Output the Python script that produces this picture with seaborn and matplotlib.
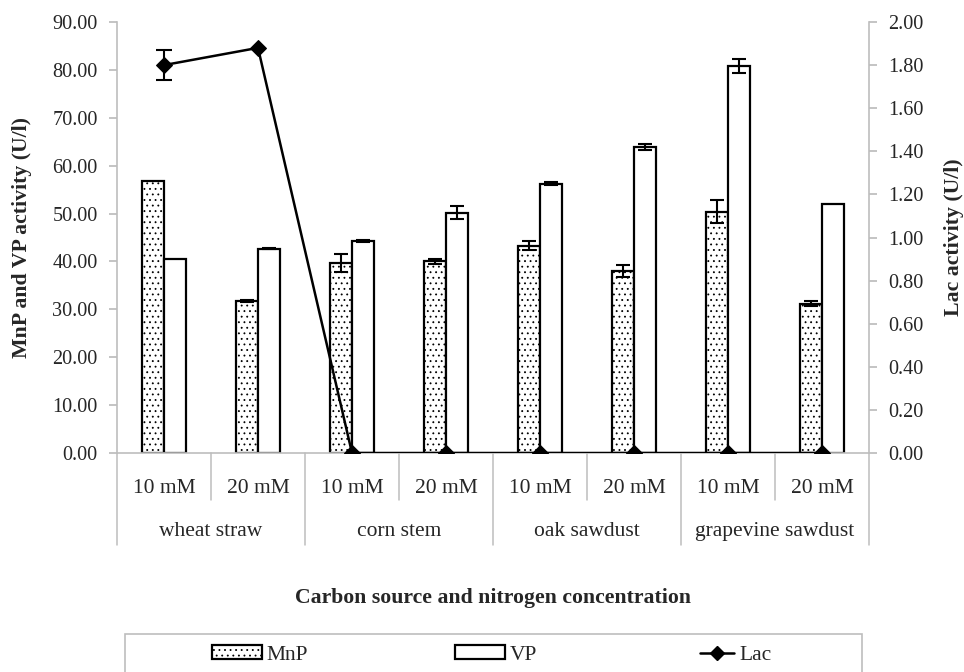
import numpy as np
import pandas as pd
import matplotlib
matplotlib.use('Agg')
import matplotlib.pyplot as plt
import seaborn as sns
from matplotlib.patches import Patch, Rectangle
from matplotlib.lines import Line2D
from matplotlib.transforms import blended_transform_factory

# Dados
fontes = ['wheat straw', 'corn stem', 'oak sawdust', 'grapevine sawdust']
concentracoes = ['10 mM', '20 mM']
mnp = [56.8, 31.7, 39.7, 40.0, 43.3, 38.0, 50.4, 31.2]
mnp_dp = [0.0, 0.2, 1.8, 0.5, 0.9, 1.3, 2.4, 0.5]
vp = [40.5, 42.7, 44.3, 50.2, 56.2, 63.9, 80.8, 52.0]
vp_dp = [0.0, 0.2, 0.2, 1.3, 0.3, 0.6, 1.4, 0.0]
lac = [1.80, 1.88, 0.0, 0.0, 0.0, 0.0, 0.0, 0.0]
lac_dp = [0.07, 0.0, 0.0, 0.0, 0.0, 0.0, 0.0, 0.0]

sns.set_theme(style='white')
plt.rcParams['font.family'] = ['Liberation Serif', 'DejaVu Serif']
plt.rcParams['hatch.linewidth'] = 0.6
cinza = '#bdbdbd'
fs_tick = 14.6
fs_cat = 15.5
fs_tit = 15.7

amostras = [f"{f} {c}" for f in fontes for c in concentracoes]
df = pd.DataFrame({
    'Amostra': amostras * 2,
    'Enzima': ['MnP'] * 8 + ['VP'] * 8,
    'Atividade': mnp + vp,
})

fig = plt.figure(figsize=(9.64, 6.72), dpi=100)
ax = fig.add_axes([117 / 964, 1 - 453 / 672, (869 - 117) / 964, (453 - 22) / 672])

sns.barplot(data=df, x='Amostra', y='Atividade', hue='Enzima', order=amostras,
            hue_order=['MnP', 'VP'], palette={'MnP': 'white', 'VP': 'white'},
            saturation=1, width=0.47, errorbar=None, edgecolor='black',
            linewidth=1.6, legend=False, ax=ax)

for patch in ax.containers[0]:
    patch.set_hatch('...')

for cont, dp in zip(ax.containers, [mnp_dp, vp_dp]):
    xs = [p.get_x() + p.get_width() / 2 for p in cont]
    ys = [p.get_height() for p in cont]
    for x, y, e in zip(xs, ys, dp):
        if e > 0:
            ax.errorbar(x, y, yerr=e, fmt='none', ecolor='black', elinewidth=1.5,
                        capsize=5, capthick=1.5, zorder=5)

ax.set_xlim(-0.5, 7.5)
ax.set_ylim(0, 90)
ax.set_yticks(np.arange(0, 91, 10))
ax.set_yticklabels([f"{v:.2f}" for v in np.arange(0, 91, 10)], fontsize=fs_tick)
ax.set_xticks(range(8))
ax.set_xticklabels(concentracoes * 4, fontsize=fs_cat)
ax.tick_params(axis='x', length=0, pad=19)
ax.tick_params(axis='y', length=6, color=cinza, direction='out', left=True, pad=8)
ax.set_xlabel('')
ax.set_ylabel('')
for s in ['top', 'right']:
    ax.spines[s].set_visible(False)
for s in ['left', 'bottom']:
    ax.spines[s].set_color(cinza)
    ax.spines[s].set_linewidth(1.2)

# separadores e rotulos de grupo
tr = blended_transform_factory(ax.transData, ax.transAxes)
for i in range(9):
    x = i - 0.5
    fim = -0.213 if i % 2 == 0 else -0.109
    ax.plot([x, x], [0, fim], transform=tr, color=cinza, lw=1.1, clip_on=False)
for i, f in enumerate(fontes):
    ax.text(2 * i + 0.5, -0.181, f, transform=tr, ha='center', va='center', fontsize=fs_cat)

ax2 = ax.twinx()
sns.lineplot(x=np.arange(8), y=lac, ax=ax2, color='black', marker='D', markersize=8,
             linewidth=1.8, markeredgecolor='black', zorder=6)
ax2.errorbar(0, lac[0], yerr=lac_dp[0], fmt='none', ecolor='black', elinewidth=1.5,
             capsize=6, capthick=1.5)
ax2.set_ylim(0, 2.0)
ax2.set_yticks(np.arange(0, 2.01, 0.2))
ax2.set_yticklabels([f"{v:.2f}" for v in np.arange(0, 2.01, 0.2)], fontsize=fs_tick)
ax2.tick_params(axis='y', length=6, color=cinza, direction='out', right=True, pad=8)
ax2.set_ylabel('')
for s in ['top', 'left', 'bottom']:
    ax2.spines[s].set_visible(False)
ax2.spines['right'].set_color(cinza)
ax2.spines['right'].set_linewidth(1.2)
ax2.set_xlim(-0.5, 7.5)

# titulos dos eixos
meio_y = 1 - 237 / 672
fig.text(22 / 964, meio_y, 'MnP and VP activity (U/l)', rotation=90, ha='center',
         va='center', fontsize=fs_tit, fontweight='bold')
fig.text(954 / 964, meio_y, 'Lac activity (U/l)', rotation=90, ha='center',
         va='center', fontsize=fs_tit, fontweight='bold')
fig.text(493 / 964, 1 - 598 / 672, 'Carbon source and nitrogen concentration',
         ha='center', va='center', fontsize=fs_tit, fontweight='bold')

# legenda com moldura cinza
fig.patches.append(Rectangle((125 / 964, -0.02), (862 - 125) / 964, 1 - 634 / 672 + 0.02,
                             transform=fig.transFigure, facecolor='white',
                             edgecolor=cinza, linewidth=1.2))
entradas = [
    (Patch(facecolor='white', edgecolor='black', hatch='...', linewidth=1.6), 'MnP', 212, 2.3),
    (Patch(facecolor='white', edgecolor='black', linewidth=1.6), 'VP', 455, 2.3),
    (Line2D([], [], color='black', marker='D', markersize=7, linewidth=1.8), 'Lac', 700, 1.6),
]
for alca, nome, x0, comp in entradas:
    fig.legend([alca], [nome], loc='center left', bbox_to_anchor=(x0 / 964, 1 - 655 / 672),
               frameon=False, fontsize=fs_cat, handlelength=comp, handleheight=0.6,
               handletextpad=0.25, borderaxespad=0, borderpad=0)

fig.savefig('out.png', dpi=100, facecolor='white')
